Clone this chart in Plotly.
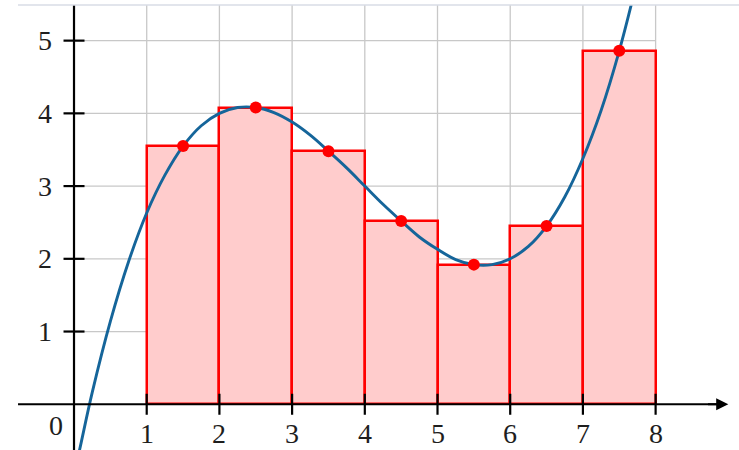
import plotly.graph_objects as go

# ---- data ----
mid_x = [1.5, 2.5, 3.5, 4.5, 5.5, 6.5, 7.5]
heights = [3.55, 4.08, 3.48, 2.52, 1.92, 2.45, 4.86]

curve_x = [0.05, 0.1, 0.25, 0.5, 0.75, 1.0, 1.25, 1.5, 1.75, 2.0, 2.25, 2.5, 2.75,
           3.0, 3.25, 3.5, 3.75, 4.0, 4.25, 4.5, 4.75, 5.0, 5.25, 5.5, 5.75,
           6.0, 6.25, 6.5, 6.75, 7.0, 7.25, 7.5, 7.75]
curve_y = [-0.75, -0.52, 0.16, 1.14, 1.96, 2.63, 3.15, 3.55, 3.83, 4.00, 4.08, 4.08, 4.01,
           3.88, 3.70, 3.48, 3.25, 3.00, 2.75, 2.52, 2.30, 2.13, 1.99, 1.92, 1.92,
           2.00, 2.17, 2.45, 2.85, 3.38, 4.04, 4.86, 5.84]

x_ticks = [1, 2, 3, 4, 5, 6, 7, 8]
y_ticks = [1, 2, 3, 4, 5]

X_MIN, X_MAX = -1.018, 9.147
Y_MIN, Y_MAX = -0.629, 5.49
AXIS_X_START, AXIS_X_END = -0.77, 9.0

GRID = "#c8c8c8"
BLUE = "#15659a"
RED = "#ff0000"
PINK = "#ffcccc"
FONT = "Liberation Serif"
TXT = "#1e1e1e"
FS = 28

fig = go.Figure()

shapes = []
# grid
for xv in x_ticks:
    shapes.append(dict(type="line", x0=xv, x1=xv, y0=0, y1=Y_MAX, xref="x", yref="y",
                       line=dict(color=GRID, width=1.3), layer="below"))
for yv in y_ticks:
    shapes.append(dict(type="line", x0=0, x1=max(x_ticks), y0=yv, y1=yv, xref="x", yref="y",
                       line=dict(color=GRID, width=1.3), layer="below"))

# bars
fig.add_trace(go.Bar(x=mid_x, y=heights, width=1,
                     marker=dict(color=PINK, line=dict(color=RED, width=2.5)),
                     hoverinfo="skip", showlegend=False))

# curve
fig.add_trace(go.Scatter(x=curve_x, y=curve_y, mode="lines",
                         line=dict(color=BLUE, width=2.9, shape="spline", smoothing=1.0),
                         hoverinfo="skip", showlegend=False, cliponaxis=True))

# axes on top
fig.add_trace(go.Scatter(x=[AXIS_X_START, AXIS_X_END - 0.15], y=[0, 0], mode="lines",
                         line=dict(color="black", width=2.2), hoverinfo="skip", showlegend=False))
fig.add_trace(go.Scatter(x=[0, 0], y=[Y_MIN, Y_MAX], mode="lines",
                         line=dict(color="black", width=2.2), hoverinfo="skip", showlegend=False))

# ticks
fig.add_trace(go.Scatter(x=x_ticks, y=[0] * len(x_ticks), mode="markers",
                         marker=dict(symbol="line-ns", size=15, line=dict(color="black", width=2.2)),
                         hoverinfo="skip", showlegend=False))
fig.add_trace(go.Scatter(x=[0] * len(y_ticks), y=y_ticks, mode="markers",
                         marker=dict(symbol="line-ew", size=15, line=dict(color="black", width=2.2)),
                         hoverinfo="skip", showlegend=False))

# midpoint dots
fig.add_trace(go.Scatter(x=mid_x, y=heights, mode="markers",
                         marker=dict(color=RED, size=12),
                         hoverinfo="skip", showlegend=False))

annotations = []
# arrow head
annotations.append(dict(x=AXIS_X_END, y=0, ax=AXIS_X_END - 0.3, ay=0, xref="x", yref="y",
                        axref="x", ayref="y", showarrow=True, arrowhead=2, arrowsize=1.1,
                        arrowwidth=2.2, arrowcolor="black", text="", standoff=0))
for xv in x_ticks:
    annotations.append(dict(x=xv, y=0, xref="x", yref="y", text=str(xv), showarrow=False,
                            yshift=-29, font=dict(family=FONT, size=FS, color=TXT)))
for yv in y_ticks:
    annotations.append(dict(x=0, y=yv, xref="x", yref="y", text=str(yv), showarrow=False,
                            xshift=-29, font=dict(family=FONT, size=FS, color=TXT)))
annotations.append(dict(x=0, y=0, xref="x", yref="y", text="0", showarrow=False,
                        xshift=-18, yshift=-21, font=dict(family=FONT, size=FS, color=TXT)))

# faint top border line of the crop
shapes.append(dict(type="line", xref="paper", yref="paper", x0=18 / 739, x1=1,
                   y0=1, y1=1, line=dict(color="#d8dce6", width=1.5)))

fig.update_layout(
    width=739, height=450,
    margin=dict(l=0, r=0, t=5, b=0),
    paper_bgcolor="white", plot_bgcolor="white",
    xaxis=dict(range=[X_MIN, X_MAX], visible=False, fixedrange=True),
    yaxis=dict(range=[Y_MIN, Y_MAX], visible=False, fixedrange=True),
    bargap=0,
    shapes=shapes,
    annotations=annotations,
    showlegend=False,
)

fig.write_html("out.html", config={"displayModeBar": False},
               post_script="document.body.style.margin='0';document.body.style.overflow='hidden';")
